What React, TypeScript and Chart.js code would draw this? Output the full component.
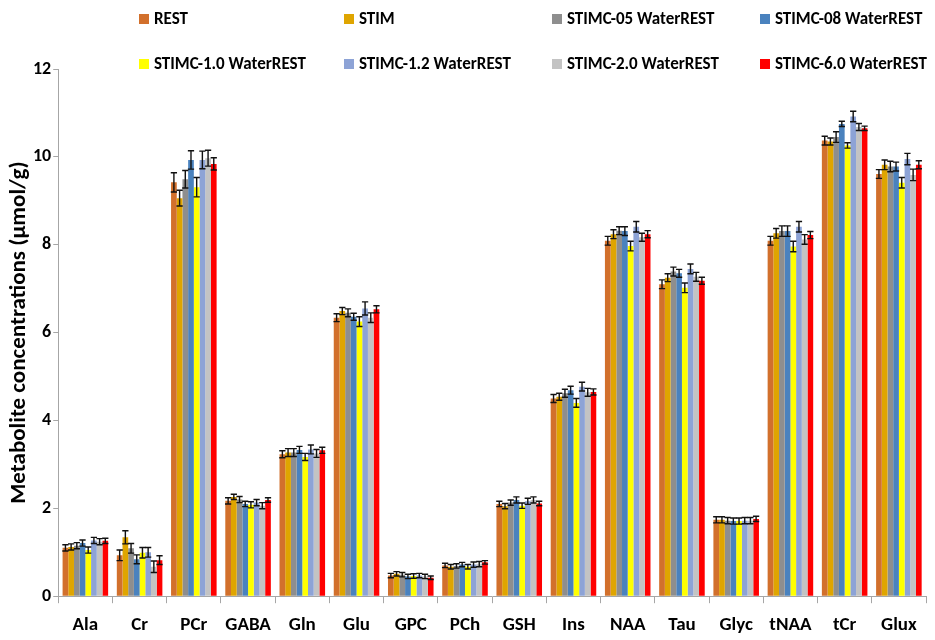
import React, { useEffect, useRef } from "react";
import { Chart, registerables } from "chart.js";

Chart.register(...registerables);

const categories = ["Ala", "Cr", "PCr", "GABA", "Gln", "Glu", "GPC", "PCh", "GSH", "Ins", "NAA", "Tau", "Glyc", "tNAA", "tCr", "Glux"];

const seriesNames = [
  "REST",
  "STIM",
  "STIMC-05 WaterREST",
  "STIMC-08 WaterREST",
  "STIMC-1.0 WaterREST",
  "STIMC-1.2 WaterREST",
  "STIMC-2.0 WaterREST",
  "STIMC-6.0 WaterREST",
];

const seriesColors = ["#D2702C", "#DFA500", "#8E8E8E", "#4A82BE", "#FFFF00", "#8DA3D6", "#C3C3C3", "#FF0000"];

const restValues = [1.10, 0.93, 9.42, 2.17, 3.23, 6.34, 0.47, 0.70, 2.10, 4.50, 8.09, 7.10, 1.74, 8.09, 10.37, 9.61];
const stimValues = [1.12, 1.34, 9.06, 2.26, 3.27, 6.49, 0.51, 0.67, 2.05, 4.54, 8.24, 7.25, 1.74, 8.26, 10.35, 9.82];
const c05Values = [1.15, 1.09, 9.49, 2.20, 3.27, 6.45, 0.49, 0.69, 2.13, 4.62, 8.32, 7.39, 1.72, 8.31, 10.45, 9.78];
const c08Values = [1.21, 0.84, 9.93, 2.10, 3.33, 6.36, 0.45, 0.72, 2.19, 4.69, 8.31, 7.35, 1.71, 8.31, 10.75, 9.78];
const c10Values = [1.05, 0.99, 9.31, 2.08, 3.17, 6.25, 0.46, 0.67, 2.06, 4.40, 7.97, 7.02, 1.71, 7.96, 10.26, 9.41];
const c12Values = [1.27, 1.00, 9.93, 2.13, 3.34, 6.55, 0.47, 0.72, 2.16, 4.77, 8.41, 7.45, 1.72, 8.41, 10.92, 9.95];
const c20Values = [1.24, 0.67, 9.97, 2.06, 3.25, 6.34, 0.45, 0.73, 2.19, 4.64, 8.17, 7.27, 1.72, 8.12, 10.68, 9.59];
const c60Values = [1.26, 0.82, 9.84, 2.19, 3.32, 6.53, 0.42, 0.77, 2.11, 4.65, 8.24, 7.18, 1.76, 8.22, 10.65, 9.82];

const restErr = [0.07, 0.12, 0.22, 0.07, 0.08, 0.09, 0.05, 0.05, 0.06, 0.09, 0.10, 0.10, 0.07, 0.10, 0.10, 0.10];
const stimErr = [0.07, 0.15, 0.18, 0.06, 0.09, 0.08, 0.05, 0.05, 0.06, 0.08, 0.10, 0.09, 0.07, 0.11, 0.08, 0.11];
const c05Err = [0.07, 0.11, 0.20, 0.07, 0.09, 0.09, 0.05, 0.05, 0.06, 0.09, 0.09, 0.10, 0.07, 0.12, 0.12, 0.12];
const c08Err = [0.07, 0.10, 0.21, 0.06, 0.08, 0.08, 0.05, 0.05, 0.07, 0.09, 0.10, 0.09, 0.07, 0.12, 0.06, 0.10];
const c10Err = [0.07, 0.12, 0.22, 0.07, 0.08, 0.11, 0.05, 0.05, 0.06, 0.10, 0.11, 0.11, 0.07, 0.12, 0.06, 0.12];
const c12Err = [0.07, 0.11, 0.20, 0.07, 0.10, 0.15, 0.05, 0.06, 0.07, 0.10, 0.12, 0.11, 0.07, 0.12, 0.12, 0.13];
const c20Err = [0.07, 0.13, 0.18, 0.07, 0.09, 0.11, 0.05, 0.06, 0.07, 0.09, 0.09, 0.10, 0.07, 0.11, 0.08, 0.13];
const c60Err = [0.06, 0.10, 0.14, 0.05, 0.07, 0.08, 0.04, 0.04, 0.05, 0.07, 0.08, 0.08, 0.06, 0.08, 0.05, 0.09];

const yTicks = [0, 2, 4, 6, 8, 10, 12];
const yTitle = "Metabolite concentrations (µmol/g)";

const seriesValues = [restValues, stimValues, c05Values, c08Values, c10Values, c12Values, c20Values, c60Values];
const seriesErrors = [restErr, stimErr, c05Err, c08Err, c10Err, c12Err, c20Err, c60Err];

const FONT = "Carlito, Lato, 'Liberation Sans', sans-serif";

const errorBarPlugin = {
  id: "errorBars",
  afterDatasetsDraw(chart: any) {
    const ctx = chart.ctx;
    const yScale = chart.scales.y;
    ctx.save();
    ctx.strokeStyle = "#111";
    ctx.lineWidth = 1.4;
    chart.data.datasets.forEach((ds: any, di: number) => {
      const meta = chart.getDatasetMeta(di);
      if (meta.hidden) return;
      meta.data.forEach((el: any, i: number) => {
        const v = ds.data[i];
        const e = ds.errors[i];
        const top = yScale.getPixelForValue(v + e);
        const bot = yScale.getPixelForValue(v - e);
        const half = Math.max(2.5, el.width * 0.55);
        ctx.beginPath();
        ctx.moveTo(el.x, top);
        ctx.lineTo(el.x, bot);
        ctx.moveTo(el.x - half, top);
        ctx.lineTo(el.x + half, top);
        ctx.moveTo(el.x - half, bot);
        ctx.lineTo(el.x + half, bot);
        ctx.stroke();
      });
    });
    ctx.restore();
  },
};

const legendColumns = [139, 344, 552, 760];
const legendRows = [19, 64];

const gridLegendPlugin = {
  id: "gridLegend",
  afterDraw(chart: any) {
    const ctx = chart.ctx;
    ctx.save();
    ctx.font = `bold 17px ${FONT}`;
    ctx.textBaseline = "middle";
    chart.data.datasets.forEach((ds: any, i: number) => {
      const x = legendColumns[i % 4];
      const y = legendRows[Math.floor(i / 4)];
      ctx.fillStyle = ds.backgroundColor;
      ctx.fillRect(x, y - 5, 10, 10);
      ctx.fillStyle = "#000";
      ctx.fillText(ds.label, x + 15, y + 1);
    });
    ctx.restore();
  },
};

export default function App() {
  const canvasRef = useRef<HTMLCanvasElement | null>(null);

  useEffect(() => {
    if (!canvasRef.current) return;
    const chart = new Chart(canvasRef.current, {
      type: "bar",
      data: {
        labels: categories,
        datasets: seriesNames.map((name, i) => ({
          label: name,
          data: seriesValues[i],
          errors: seriesErrors[i],
          backgroundColor: seriesColors[i],
          borderWidth: 0,
          barPercentage: 1.0,
          categoryPercentage: 0.84,
        })) as any,
      },
      options: {
        animation: false,
        responsive: true,
        maintainAspectRatio: false,
        layout: { padding: { top: 69, right: 9, bottom: -8, left: 0 } },
        plugins: {
          legend: { display: false },
          tooltip: { enabled: false },
        },
        scales: {
          x: {
            offset: true,
            grid: {
              offset: true,
              drawOnChartArea: false,
              drawTicks: true,
              tickLength: 7,
              color: "#A6A6A6",
              lineWidth: 1,
            },
            border: { color: "#A6A6A6", width: 1 },
            ticks: {
              color: "#000",
              font: { family: FONT, size: 19, weight: "bold" },
              padding: 11,
              autoSkip: false,
              maxRotation: 0,
              minRotation: 0,
            },
          },
          y: {
            min: 0,
            max: 12,
            afterBuildTicks: (scale: any) => {
              scale.ticks = yTicks.map((v) => ({ value: v }));
            },
            grid: {
              drawOnChartArea: false,
              drawTicks: true,
              tickLength: 5,
              color: "#A6A6A6",
            },
            border: { color: "#A6A6A6", width: 1 },
            ticks: {
              color: "#000",
              font: { family: FONT, size: 18, weight: "bold" },
              padding: 2,
            },
            title: {
              display: true,
              text: yTitle,
              color: "#000",
              font: { family: FONT, size: 23, weight: "bold", lineHeight: 1.0 },
              padding: { top: 8, bottom: 0 },
            },
          },
        },
      },
      plugins: [errorBarPlugin, gridLegendPlugin],
    } as any);
    return () => chart.destroy();
  }, []);

  return (
    <div style={{ position: "fixed", left: 0, top: 0, width: 935, height: 640, background: "#fff" }}>
      <canvas ref={canvasRef} />
    </div>
  );
}
